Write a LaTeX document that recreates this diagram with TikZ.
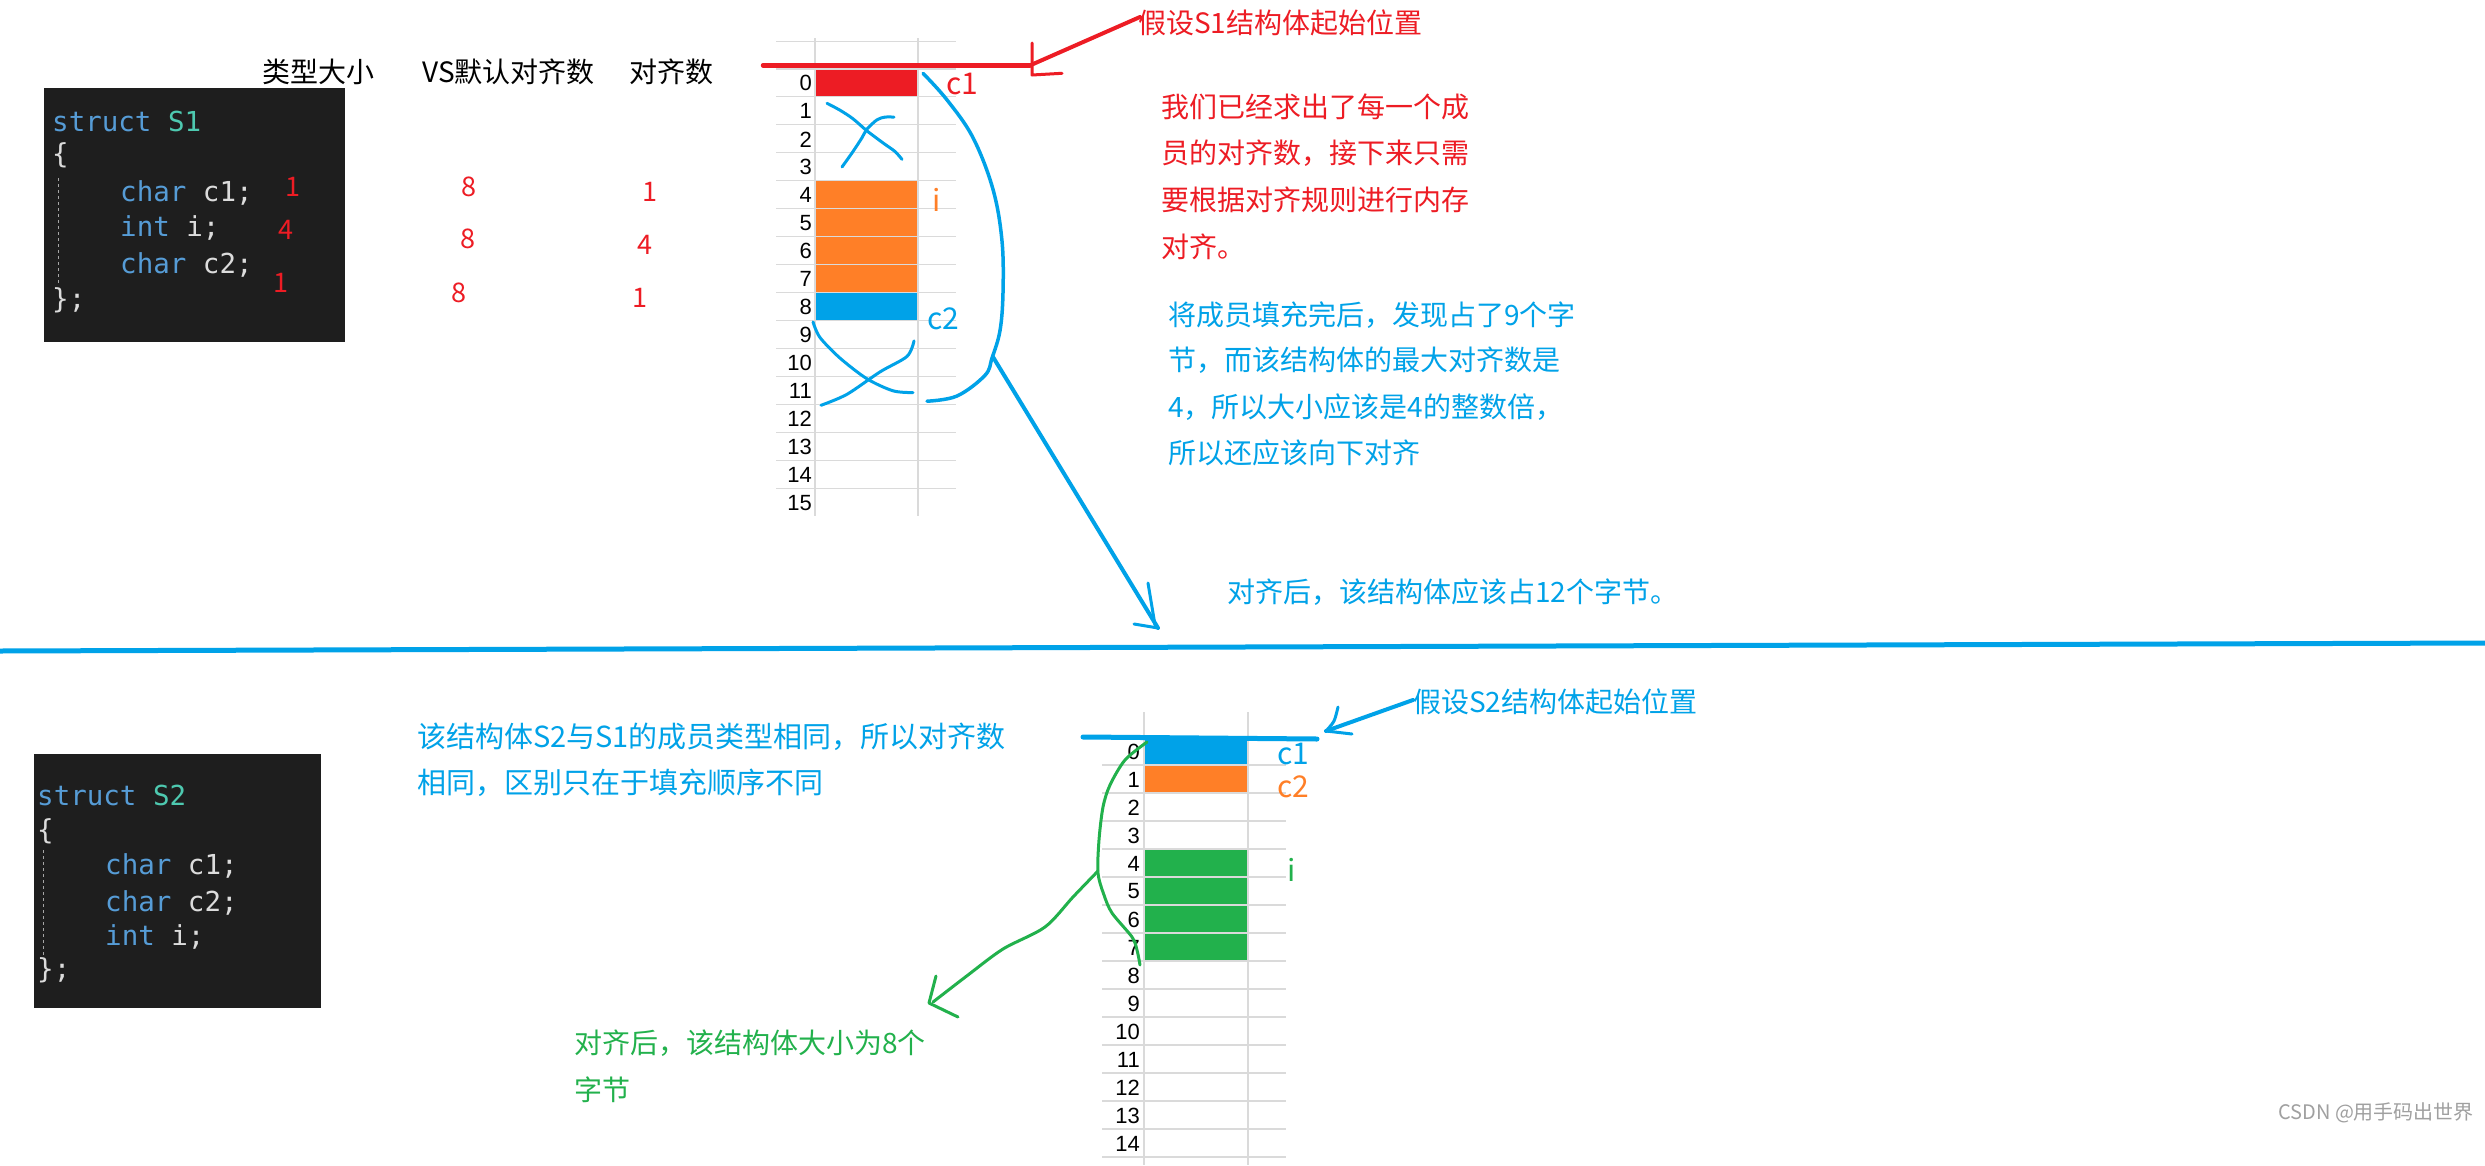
\documentclass[tikz,border=0pt]{standalone}
\usepackage{fontspec}
\setmainfont{Noto Sans CJK SC}
\newfontfamily\cjk{Noto Sans CJK SC}
\newfontfamily\codefont{DejaVu Sans Mono}
\newfontfamily\numfont{Liberation Sans}
\definecolor{pred}{HTML}{ED1C24}
\definecolor{porange}{HTML}{FF7F27}
\definecolor{pblue}{HTML}{00A2E8}
\definecolor{pgreen}{HTML}{22B14C}
\definecolor{codebg}{HTML}{1E1E1E}
\definecolor{kw}{HTML}{569CD6}
\definecolor{typ}{HTML}{4EC9B0}
\definecolor{codefg}{HTML}{DCDCDC}
\definecolor{gridc}{HTML}{DADADA}
\definecolor{wm}{HTML}{A0A0A0}
\begin{document}
\begin{tikzpicture}[x=1pt,y=-1pt,
  txt/.style={inner sep=0pt, anchor=west, font=\cjk\fontsize{28}{34}\selectfont},
  lbl/.style={inner sep=0pt, anchor=center, font=\cjk\fontsize{30}{36}\selectfont},
  num/.style={inner sep=0pt, anchor=center, text=pred, font=\cjk\fontsize{27}{32}\selectfont},
  code/.style={inner sep=0pt, anchor=west, text=codefg, font=\codefont\fontsize{27.5}{33}\selectfont},
  rownum/.style={inner sep=0pt, anchor=east, font=\numfont\fontsize{22}{26}\selectfont},
  gridline/.style={draw=gridc, line width=1.2pt},
  guide/.style={draw=gray!70, line width=0.8pt, dash pattern=on 3pt off 3pt},
  pen/.style={line width=3.5pt, line cap=round, line join=round},
  codebox/.style={fill=codebg, draw=none, inner sep=0pt, anchor=north west},
]
\useasboundingbox (0,0) rectangle (2485,1165);
\fill[white] (0,0) rectangle (2485,1165);

% ---------- code boxes ----------
\node[codebox, minimum width=301pt, minimum height=254pt] (box1) at (44,88) {};
\node[code] (s1a) at (52,121) {{\color{kw}struct} {\color{typ}S1}};
\node[code] (s1b) at (52,155) {\{};
\node[code] (s1c) at (120,193) {{\color{kw}char} c1;};
\node[code] (s1d) at (120,228) {{\color{kw}int} i;};
\node[code] (s1e) at (120,265) {{\color{kw}char} c2;};
\node[code] (s1f) at (52,300) {\};};
\draw[guide] (58,178) -- (58,283);

\node[codebox, minimum width=287pt, minimum height=254pt] (box2) at (34,754) {};
\node[code] (s2a) at (37,795) {{\color{kw}struct} {\color{typ}S2}};
\node[code] (s2b) at (37,831) {\{};
\node[code] (s2c) at (105,866) {{\color{kw}char} c1;};
\node[code] (s2d) at (105,903) {{\color{kw}char} c2;};
\node[code] (s2e) at (105,937) {{\color{kw}int} i;};
\node[code] (s2f) at (37,970) {\};};
\draw[guide] (43,850) -- (43,958);

% ---------- headers and numbers ----------
\node[txt] (h1) at (262,72) {类型大小};
\node[txt] (h2) at (422,72) {VS默认对齐数};
\node[txt] (h3) at (629,72) {对齐数};
\node[num] (n11) at (293,187) {1};
\node[num] (n12) at (286,230) {4};
\node[num] (n13) at (281,283) {1};
\node[num] (n21) at (469,187) {8};
\node[num] (n22) at (468,239) {8};
\node[num] (n23) at (459,293) {8};
\node[num] (n31) at (650,192) {1};
\node[num] (n32) at (645,245) {4};
\node[num] (n33) at (640,298) {1};

% ---------- S1 memory grid ----------
\fill[pred] (815,68.9) rectangle (918,96.86);
\fill[porange] (815,180.7) rectangle (918,292.5);
\fill[pblue] (815,292.5) rectangle (918,320.5);
\draw[gridline] (776,41.3) -- (956,41.3);
\foreach \k in {0,...,15} {
  \pgfmathsetmacro\yy{68.9+27.96*\k}
  \draw[gridline] (776,\yy) -- (956,\yy);
  \node[rownum] (ra\k) at (812,\yy+14.5) {\k};
}
\draw[gridline] (815,38) -- (815,515.5);
\draw[gridline] (918,38) -- (918,515.5);
\node[lbl, text=pred] (lc1) at (962,83.7) {c1};
\node[lbl, text=porange] (li) at (937,199.7) {i};
\node[lbl, text=pblue] (lc2) at (943,318.5) {c2};

% ---------- S2 memory grid ----------
\fill[pblue] (1144,737) rectangle (1248,765);
\fill[porange] (1144,765) rectangle (1248,793);
\fill[pgreen] (1144,849) rectangle (1248,961);
\foreach \k in {0,...,15} {
  \pgfmathsetmacro\yy{737+28*\k}
  \draw[gridline] (1102,\yy) -- (1286,\yy);
}
\foreach \k in {0,...,14} {
  \pgfmathsetmacro\yy{737+28*\k}
  \node[rownum] (rb\k) at (1140,\yy+14.5) {\k};
}
\draw[gridline] (1144,712) -- (1144,1165);
\draw[gridline] (1248,712) -- (1248,1165);
\node[lbl, text=pblue] (mc1) at (1293,754) {c1};
\node[lbl, text=porange] (mc2) at (1293,787) {c2};
\node[lbl, text=pgreen] (mi) at (1292,870) {i};

% ---------- texts ----------
\node[txt, text=pred] (t1) at (1138,23) {假设S1结构体起始位置};
\node[txt, text=pred] (p1) at (1161,107) {我们已经求出了每一个成};
\node[txt, text=pred] (p2) at (1161,153) {员的对齐数，接下来只需};
\node[txt, text=pred] (p3) at (1161,200) {要根据对齐规则进行内存};
\node[txt, text=pred] (p4) at (1161,247) {对齐。};
\node[txt, text=pblue] (q1) at (1168,315) {将成员填充完后，发现占了9个字};
\node[txt, text=pblue] (q2) at (1168,360) {节，而该结构体的最大对齐数是};
\node[txt, text=pblue] (q3) at (1168,407) {4，所以大小应该是4的整数倍，};
\node[txt, text=pblue] (q4) at (1168,453) {所以还应该向下对齐};
\node[txt, text=pblue] (t12) at (1227,592) {对齐后，该结构体应该占12个字节。};
\node[txt, text=pblue] (t2) at (1413,702) {假设S2结构体起始位置};
\node[txt, text=pblue, font=\cjk\fontsize{29}{35}\selectfont] (u1) at (417,737) {该结构体S2与S1的成员类型相同，所以对齐数};
\node[txt, text=pblue, font=\cjk\fontsize{29}{35}\selectfont] (u2) at (417,783) {相同，区别只在于填充顺序不同};
\node[txt, text=pgreen] (g1) at (574,1043) {对齐后，该结构体大小为8个};
\node[txt, text=pgreen] (g2) at (574,1090) {字节};
\node[txt, text=wm, font=\cjk\fontsize{20}{24}\selectfont] (wmk) at (2278,1113) {CSDN @用手码出世界};

% ---------- divider ----------
\coordinate (dl) at (0,651);
\coordinate (dr) at (2485,643);
\draw[pblue, line width=5pt] (dl) -- (dr);

% ---------- red start marker S1 ----------
\coordinate (ra) at (763,65.4);
\coordinate (rb) at (1030,65.4);
\coordinate (rc) at (1140,17);
\draw[pred, pen, line width=4.5pt] (ra) -- (rb);
\draw[pred, pen, line width=4pt] (rb) -- (rc);
\draw[pred, pen, line width=3pt] (1032,43) -- (1032,75) -- (1062,73.3);

% ---------- blue strokes S1 ----------
\draw[pblue, pen] plot[smooth, tension=0.6] coordinates {(923,73.3) (947,99.9) (973,137.7) (993,189.4) (1002,241) (1003,292.7) (1000,330.6) (992,358.1) (985,375.3) (957,396) (927,401.2)};
\draw[pblue, pen, line width=3pt] plot[smooth] coordinates {(827,103.3) (840,110.2) (853,118.8) (867,130.9) (883,142.9) (895,151.5) (902,159.4)};
\draw[pblue, pen, line width=3pt] plot[smooth] coordinates {(842,167) (853,151.5) (862,137.7) (867,129.1) (877,119.8) (885,117.1) (894,117.1)};
\draw[pblue, pen, line width=3pt] plot[smooth] coordinates {(813,322) (820,337.5) (840,358.1) (867,378.8) (893,390.8) (913,392.6)};
\draw[pblue, pen, line width=3pt] plot[smooth] coordinates {(821,405.3) (847,394.3) (880,371.9) (907,356.4) (914,340.9)};
\coordinate (ba) at (993,357);
\coordinate (bb) at (1158,628);
\draw[pblue, pen, line width=4pt] (ba) -- (bb);
\draw[pblue, pen, line width=3pt] (1148,583) -- (1155,625);
\draw[pblue, pen, line width=3pt] (1134,624) -- (1158,628);

% ---------- blue start marker S2 ----------
\coordinate (sa) at (1083,737);
\coordinate (sb) at (1317,739);
\draw[pblue, pen, line width=5pt] (sa) -- (sb);
\coordinate (sc) at (1326,731);
\coordinate (sd) at (1413,700);
\draw[pblue, pen, line width=4pt] (sc) -- (sd);
\draw[pblue, pen, line width=3pt] plot[smooth] coordinates {(1338,707) (1334,721) (1326,731)};
\draw[pblue, pen, line width=3pt] (1326,731) -- (1352,734);

% ---------- green strokes S2 ----------
\draw[pgreen, pen, line width=3pt] plot[smooth] coordinates {(1147,742) (1125,760) (1110,785) (1103,807) (1099,840) (1098,873) (1104,895) (1112,913) (1132,937) (1137,950) (1140,965)};
\draw[pgreen, pen, line width=3pt] plot[smooth] coordinates {(1098,871) (1073,897) (1045,927) (1003,949) (968,975) (933,1002)};
\draw[pgreen, pen, line width=3pt] (936,976) -- (929,1003) -- (958,1017);
\end{tikzpicture}
\end{document}
